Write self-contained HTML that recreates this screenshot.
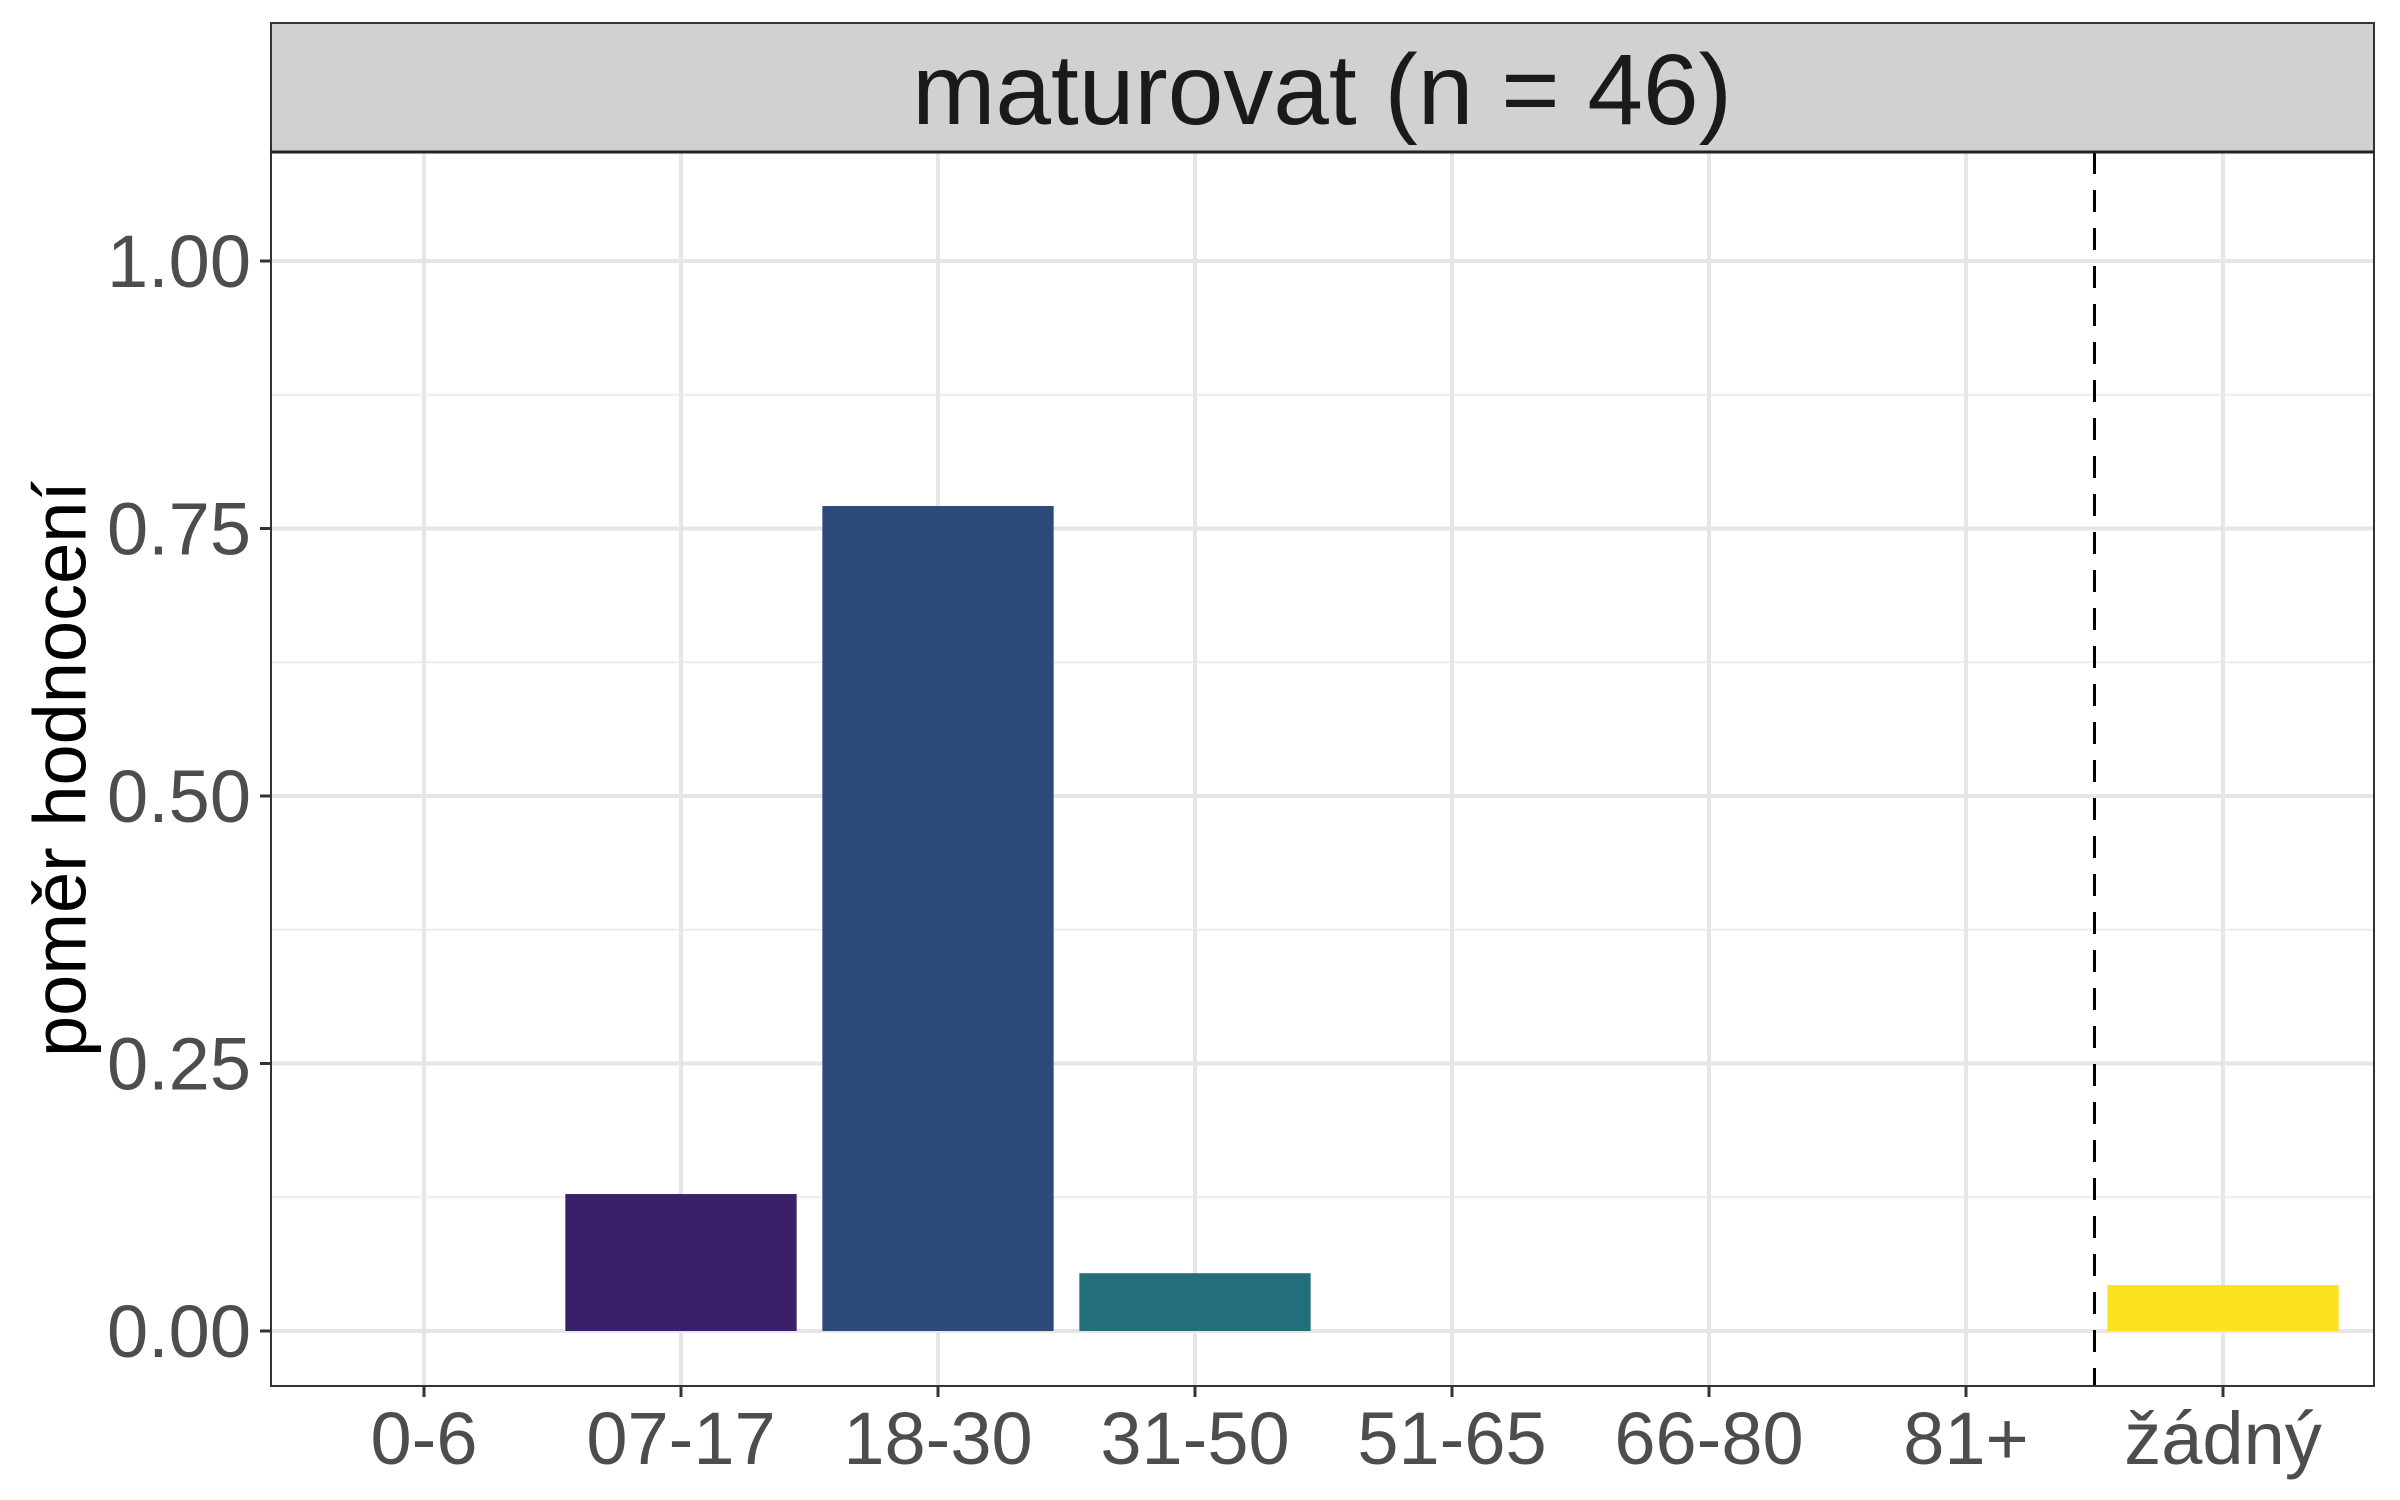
<!DOCTYPE html>
<html><head><meta charset="utf-8"><style>
html,body{margin:0;padding:0;background:#fff}
svg{display:block}
text{font-family:"Liberation Sans",Arial,sans-serif}
</style></head><body>
<svg id="chart" width="2400" height="1500" viewBox="0 0 2400 1500" xmlns="http://www.w3.org/2000/svg">
<rect x="0" y="0" width="2400" height="1500" fill="#fff"/>
<g id="grid"></g>
<g id="bars"></g>
<line id="sep" stroke="#000" stroke-width="3" stroke-dasharray="22,16"/>
<rect x="271" y="152" width="2103" height="1234" fill="none" stroke="#333" stroke-width="2"/>
<rect x="271" y="23" width="2103" height="129" fill="#d1d1d1" stroke="#333" stroke-width="2"/>
<line x1="271" y1="152" x2="2374" y2="152" stroke="#222" stroke-width="3"/>
<text x="1322" y="124" font-size="100" text-anchor="middle" fill="#1a1a1a">maturovat (n = 46)</text>
<g id="axes"></g>
<text transform="translate(60,769) rotate(-90)" font-size="74" text-anchor="middle" dominant-baseline="central" fill="#000">poměr hodnocení</text>
</svg>
<script>
const categories = ["0-6","07-17","18-30","31-50","51-65","66-80","81+","žádný"];
const values = [0, 0.128, 0.771, 0.054, 0, 0, 0, 0.043];
const colors = ["#440154","#3a2068","#2b4a7a","#226e7a","#1f9a8a","#5ec962","#b5de2b","#fbe41d"];
const yTicks = [0, 0.25, 0.5, 0.75, 1.0];
const yTickLabels = ["0.00","0.25","0.50","0.75","1.00"];
const separatorAt = 6.5;

const NS = "http://www.w3.org/2000/svg";
const L = 271, R = 2374, T = 152, B = 1386;
const step = 257, x0 = 424;
function xs(i){ return x0 + i*step; }
function ys(v){ return 1331 - v*1070; }
function mk(tag, attrs, parent){ const e=document.createElementNS(NS,tag); for(const k in attrs) e.setAttribute(k,attrs[k]); parent.appendChild(e); return e; }

const grid = document.getElementById('grid');
for (let i=0;i<yTicks.length-1;i++){
  const m = (yTicks[i]+yTicks[i+1])/2;
  const ln = mk('line',{x1:L,x2:R,y1:ys(m),y2:ys(m),stroke:'#ededed','stroke-width':2},grid);
  
  
}
{ const m = yTicks[yTicks.length-1]+0.125;
  const ln = mk('line',{x1:L,x2:R,y1:ys(m),y2:ys(m),stroke:'#ededed','stroke-width':2},grid);
  
   }
yTicks.forEach(v=>{
  const ln = mk('line',{x1:L,x2:R,y1:ys(v),y2:ys(v),stroke:'#e6e6e6','stroke-width':4},grid);
  
  
});
categories.forEach((c,i)=>{
  const ln = mk('line',{x1:xs(i),x2:xs(i),y1:T,y2:B,stroke:'#e6e6e6','stroke-width':4},grid);
  
  
});

const bars = document.getElementById('bars');
const bw = step*0.9;
categories.forEach((c,i)=>{
  if (values[i] <= 0) return;
  const r = mk('rect',{x:xs(i)-bw/2,y:ys(values[i]),width:bw,height:ys(0)-ys(values[i]),fill:colors[i]},bars);
  
  
});

const sep = document.getElementById('sep');
sep.setAttribute('x1', xs(separatorAt)); sep.setAttribute('x2', xs(separatorAt));
sep.setAttribute('y1', T); sep.setAttribute('y2', B);

const axes = document.getElementById('axes');
yTicks.forEach((v,i)=>{
  const t = mk('line',{x1:L-11,x2:L,y1:ys(v),y2:ys(v),stroke:'#333','stroke-width':3},axes);
  
  
  const tx = mk('text',{x:L-20,y:ys(v)+26,'font-size':74,'text-anchor':'end',fill:'#4d4d4d'},axes);
  tx.textContent = yTickLabels[i];
  
  
});
categories.forEach((c,i)=>{
  const t = mk('line',{x1:xs(i),x2:xs(i),y1:B,y2:B+11,stroke:'#333','stroke-width':3},axes);
  
  
  const tx = mk('text',{x:xs(i),y:1464,'font-size':74,'text-anchor':'middle',fill:'#4d4d4d'},axes);
  tx.textContent = c;
  
  
});
</script>
</body></html>
